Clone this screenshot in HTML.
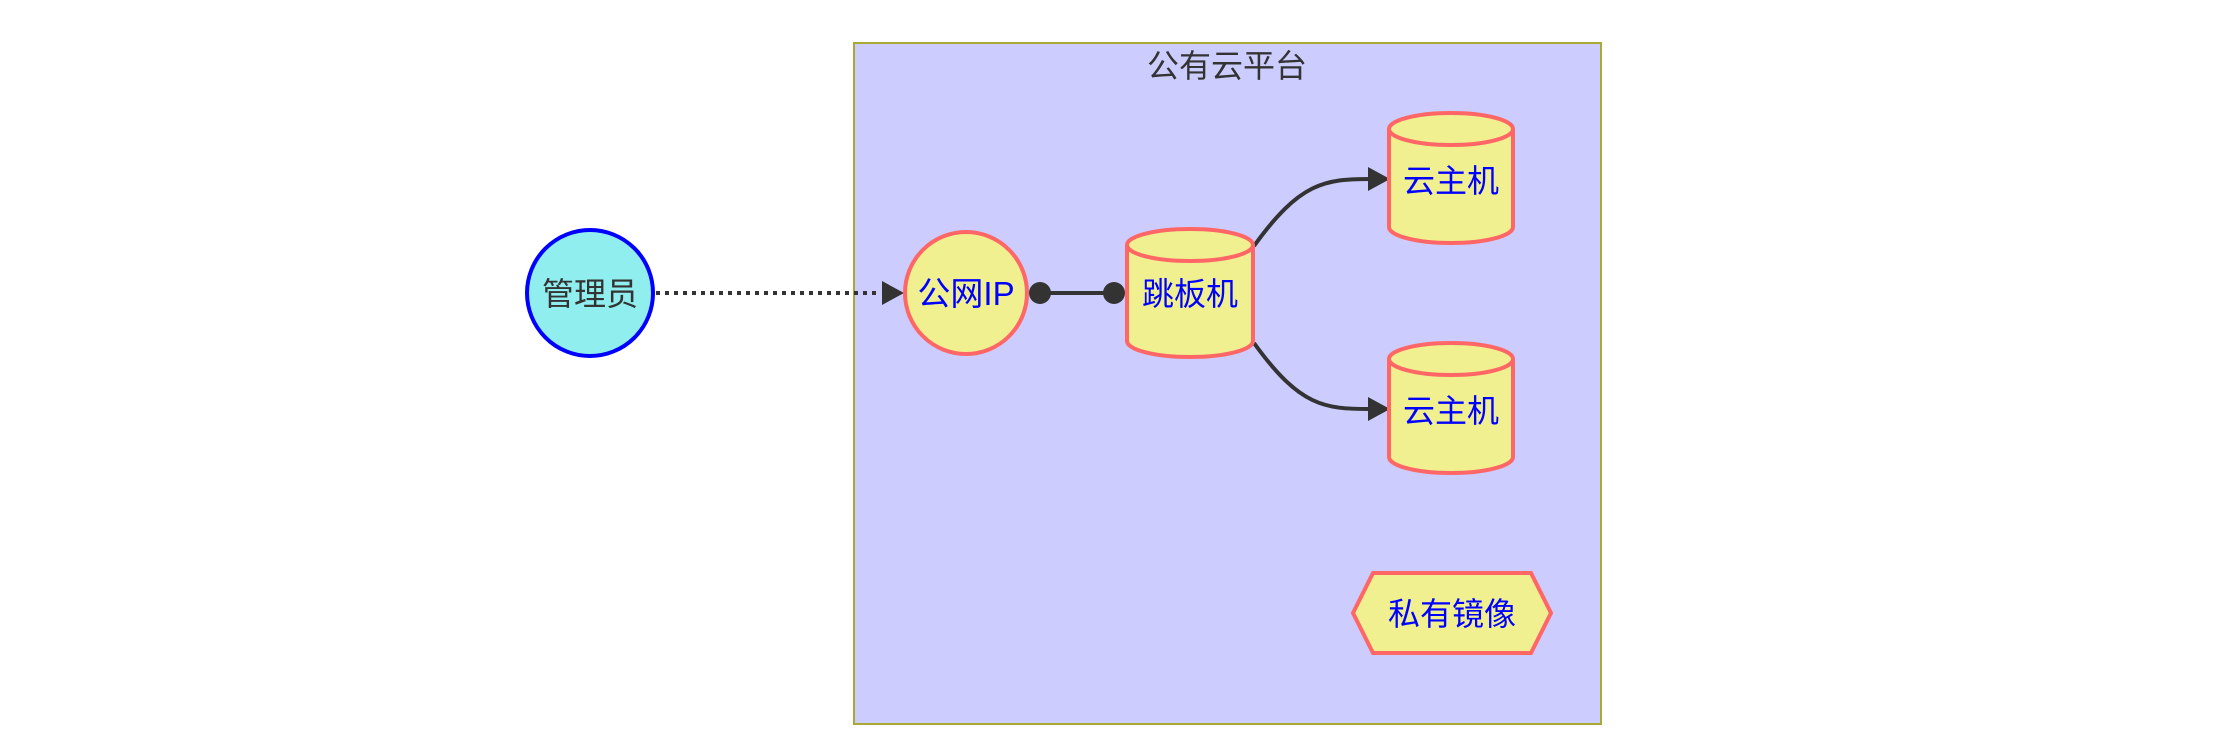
<!DOCTYPE html>
<html><head><meta charset="utf-8"><style>
html,body{margin:0;padding:0;background:#fff;}
svg text{font-family:"Liberation Sans","Noto Sans CJK SC",sans-serif;}
</style></head><body>
<svg width="2240" height="744" viewBox="0 0 2240 744" xmlns="http://www.w3.org/2000/svg">
<rect x="854" y="43" width="747" height="681" fill="#ccccff" stroke="#aaaa33" stroke-width="2"/>
<text x="1227" y="77" font-size="32" fill="#333" text-anchor="middle">公有云平台</text>
<line x1="656" y1="293" x2="880" y2="293" stroke="#333" stroke-width="4" stroke-dasharray="4 5"/>
<polygon points="882,281 904,293 882,305" fill="#333"/>
<line x1="1040" y1="293" x2="1114" y2="293" stroke="#333" stroke-width="4"/>
<circle cx="1040" cy="293" r="11" fill="#333"/>
<circle cx="1114" cy="293" r="11" fill="#333"/>
<path d="M1254,246 C1300,182 1325,179 1370,179" fill="none" stroke="#333" stroke-width="4"/>
<polygon points="1368,167 1390,179 1368,191" fill="#333"/>
<path d="M1254,343 C1300,407 1325,409 1370,409" fill="none" stroke="#333" stroke-width="4"/>
<polygon points="1368,397 1390,409 1368,421" fill="#333"/>
<circle cx="590" cy="293" r="63" fill="#90eeef" stroke="#0000ff" stroke-width="4"/>
<text x="590" y="305" font-size="32" fill="#333" text-anchor="middle">管理员</text>
<circle cx="966" cy="293" r="61" fill="#f0f090" stroke="#ff6666" stroke-width="4"/>
<text x="966" y="305" font-size="33" fill="#0000ff" text-anchor="middle">公网IP</text>
<g fill="#f0f090" stroke="#ff6666" stroke-width="4">
<path d="M1127,245 L1127,341 A63,16 0 0 0 1253,341 L1253,245"/>
<ellipse cx="1190" cy="245" rx="63" ry="16"/>
<path d="M1389,129 L1389,227 A62,16 0 0 0 1513,227 L1513,129"/>
<ellipse cx="1451" cy="129" rx="62" ry="16"/>
<path d="M1389,359 L1389,457 A62,16 0 0 0 1513,457 L1513,359"/>
<ellipse cx="1451" cy="359" rx="62" ry="16"/>
<polygon points="1373,573 1531,573 1551,613 1531,653 1373,653 1353,613"/>
</g>
<text x="1190" y="305" font-size="32" fill="#0000ff" text-anchor="middle">跳板机</text>
<text x="1451" y="192" font-size="32" fill="#0000ff" text-anchor="middle">云主机</text>
<text x="1451" y="422" font-size="32" fill="#0000ff" text-anchor="middle">云主机</text>
<text x="1452" y="625" font-size="32" fill="#0000ff" text-anchor="middle">私有镜像</text>
</svg>
</body></html>
